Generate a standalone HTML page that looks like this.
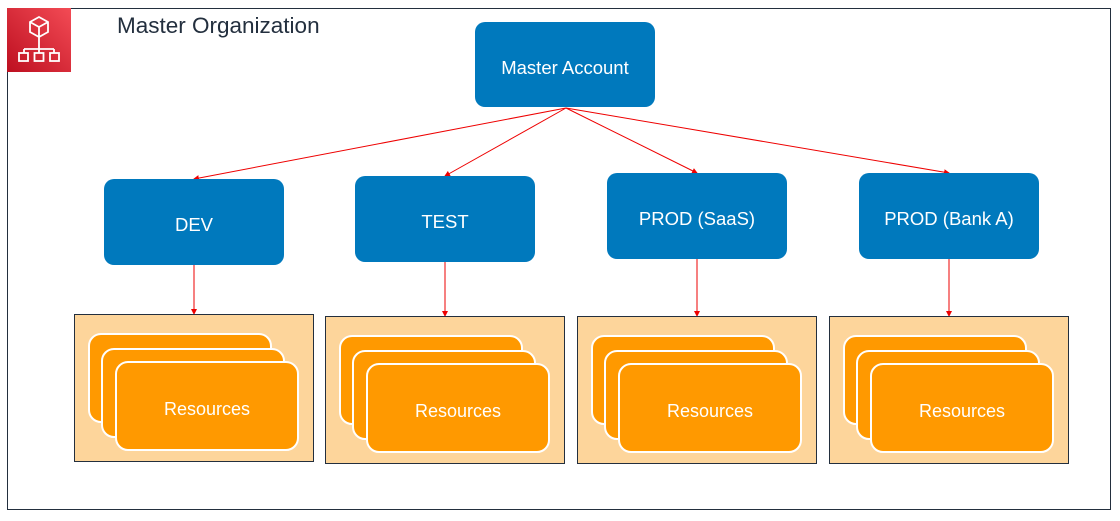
<!DOCTYPE html>
<html><head><style>
body{margin:0;width:1120px;height:516px;background:#fff;overflow:hidden;font-family:"Liberation Sans",Arial,sans-serif}
</style></head><body>
<svg width="1120" height="516" xmlns="http://www.w3.org/2000/svg" font-family="Liberation Sans, Arial, sans-serif">
<defs>
<linearGradient id="g" x1="0" y1="1" x2="1" y2="0"><stop offset="0" stop-color="#bd0f20"/><stop offset="1" stop-color="#f34b55"/></linearGradient>
<marker id="a" markerWidth="6" markerHeight="6" refX="5" refY="3" orient="auto" markerUnits="userSpaceOnUse"><path d="M0,0L6,3L0,6z" fill="#e00"/></marker>
</defs>
<rect x="7.5" y="8.5" width="1103" height="501" fill="#fff" stroke="#232f3e"/>
<rect x="7" y="8" width="64" height="64" fill="url(#g)"/>
<g stroke="#fff" stroke-width="1.8" fill="none">
<path d="M39,17l9,5v10l-9,5l-9,-5v-10z M30,22l9,5l9,-5 M39,27v10"/>
<path d="M39,37v12 M24,49h30 M24,49v4 M39,49v4 M54,49v4"/>
<rect x="19" y="53" width="9" height="8"/><rect x="34.5" y="53" width="9" height="8"/><rect x="50" y="53" width="9" height="8"/>
</g>
<text x="117" y="33" font-size="22.5" fill="#232f3e">Master Organization</text>
<rect x="475" y="22" width="180" height="85" rx="10" fill="#0079bd"/>
<text x="565" y="74" font-size="18.5" fill="#fff" text-anchor="middle">Master Account</text>
<g stroke="#e00" stroke-width="1" marker-end="url(#a)">
<line x1="566" y1="108" x2="194" y2="179"/>
<line x1="566" y1="108" x2="445" y2="176"/>
<line x1="566" y1="108" x2="697" y2="173"/>
<line x1="566" y1="108" x2="949" y2="173"/>
<line x1="194" y1="265" x2="194" y2="314"/>
<line x1="445" y1="262" x2="445" y2="316"/>
<line x1="697" y1="259" x2="697" y2="316"/>
<line x1="949" y1="259" x2="949" y2="316"/>
</g>
<g fill="#0079bd">
<rect x="104" y="179" width="180" height="86" rx="10"/>
<rect x="355" y="176" width="180" height="86" rx="10"/>
<rect x="607" y="173" width="180" height="86" rx="10"/>
<rect x="859" y="173" width="180" height="86" rx="10"/>
</g>
<g fill="#fff" font-size="18.5" text-anchor="middle">
<text x="194" y="231">DEV</text>
<text x="445" y="228">TEST</text>
<text x="697" y="225">PROD (SaaS)</text>
<text x="949" y="225">PROD (Bank A)</text>
</g>
<g id="r1">
<rect x="74.5" y="314.5" width="239" height="147" fill="#fdd59b" stroke="#232f3e"/>
<g fill="#ff9900" stroke="#fff" stroke-width="2">
<rect x="89" y="334" width="182" height="88" rx="12"/>
<rect x="102" y="349" width="182" height="88" rx="12"/>
<rect x="116" y="362" width="182" height="88" rx="12"/>
</g>
<text x="207" y="415" font-size="18" fill="#fff" text-anchor="middle">Resources</text>
</g>
<use href="#r1" x="251" y="2"/>
<use href="#r1" x="503" y="2"/>
<use href="#r1" x="755" y="2"/>
</svg>
</body></html>
